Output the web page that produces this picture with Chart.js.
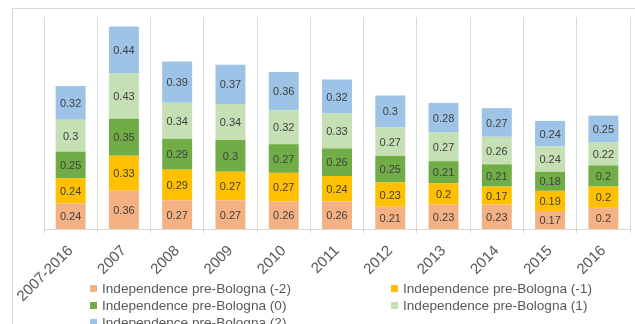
<!DOCTYPE html>
<html>
<head>
<meta charset="utf-8">
<script src="https://cdn.jsdelivr.net/npm/chart.js@4"></script>
<style>
  body { margin: 0; background: #fff; font-family: "Liberation Sans", Arial, sans-serif; }
  #wrap { position: relative; width: 635px; height: 324px; overflow: hidden; }
  #frame { position: absolute; left: 12px; top: 8px; width: 700px; height: 400px; border-left: 1px solid #d9d9d9; border-top: 1px solid #d9d9d9; }
  canvas { position: absolute; left: 0; top: 0; }
  .leg { position: absolute; font-size: 13.6px; color: #595959; white-space: nowrap; line-height: 17px; }
  .leg i { position: absolute; left: -12px; top: 5px; width: 7px; height: 7px; }
</style>
</head>
<body>
<div id="wrap">
  <div id="frame"></div>
  <canvas id="chartCanvas" width="635" height="324"></canvas>
  <div id="legend"></div>
</div>
<script>
// categories
const years = ["2007-2016", "2007", "2008", "2009", "2010", "2011", "2012", "2013", "2014", "2015", "2016"];

// series values
const indepMinus2 = [0.24, 0.36, 0.27, 0.27, 0.26, 0.26, 0.21, 0.23, 0.23, 0.17, 0.2];
const indepMinus1 = [0.24, 0.33, 0.29, 0.27, 0.27, 0.24, 0.23, 0.2, 0.17, 0.19, 0.2];
const indepZero   = [0.25, 0.35, 0.29, 0.3, 0.27, 0.26, 0.25, 0.21, 0.21, 0.18, 0.2];
const indepPlus1  = [0.3, 0.43, 0.34, 0.34, 0.32, 0.33, 0.27, 0.27, 0.26, 0.24, 0.22];
const indepPlus2  = [0.32, 0.44, 0.39, 0.37, 0.36, 0.32, 0.3, 0.28, 0.27, 0.24, 0.25];

const seriesNames = [
    "Independence pre-Bologna (-2)",
    "Independence pre-Bologna (-1)",
    "Independence pre-Bologna (0)",
    "Independence pre-Bologna (1)",
    "Independence pre-Bologna (2)"
];
const seriesColors = ["#F4B183", "#FFC000", "#70AD47", "#C5E0B4", "#9DC3E6"];
const seriesData = [indepMinus2, indepMinus1, indepZero, indepPlus1, indepPlus2];

// value labels in the middle of each segment
const barLabels = {
    id: "barLabels",
    afterDatasetsDraw(chart) {
        const ctx = chart.ctx;
        ctx.save();
        ctx.font = "11px 'Liberation Sans', Arial, sans-serif";
        ctx.fillStyle = "#404040";
        ctx.textAlign = "center";
        ctx.textBaseline = "middle";
        chart.data.datasets.forEach((ds, i) => {
            chart.getDatasetMeta(i).data.forEach((bar, j) => {
                ctx.fillText(String(ds.data[j]), bar.x, (bar.y + bar.base) / 2 + 1);
            });
        });
        ctx.restore();
    }
};

// Draw Chart
const ctx = document.getElementById("chartCanvas").getContext("2d");
new Chart(ctx, {
    type: "bar",
    data: {
        labels: years,
        datasets: seriesData.map((d, i) => ({
            label: seriesNames[i],
            data: d,
            backgroundColor: seriesColors[i],
            borderWidth: 0,
            barPercentage: 0.5625,
            categoryPercentage: 1
        }))
    },
    options: {
        responsive: false,
        animation: false,
        layout: { padding: { left: 44, right: 5, top: 17, bottom: 0 } },
        plugins: { legend: { display: false }, tooltip: { enabled: false } },
        scales: {
            x: {
                stacked: true,
                grid: { color: "#d9d9d9", tickLength: 4 },
                border: { color: "#d9d9d9" },
                ticks: {
                    minRotation: 45,
                    maxRotation: 45,
                    color: "#595959",
                    padding: 9,
                    font: { family: "'Liberation Sans', Arial, sans-serif", size: 15 }
                },
                afterFit(scale) { scale.height = 95; }
            },
            y: {
                stacked: true,
                display: false,
                min: 0,
                max: 2
            }
        }
    },
    plugins: [barLabels]
});

// Legend, two columns
const legend = document.getElementById("legend");
const colX = [102, 403];
seriesNames.forEach((name, i) => {
    const item = document.createElement("div");
    item.className = "leg";
    item.style.left = colX[i % 2] + "px";
    item.style.top = (280 + Math.floor(i / 2) * 17) + "px";
    item.innerHTML = `<i style="background:${seriesColors[i]}"></i>${name}`;
    legend.appendChild(item);
});
</script>
</body>
</html>
